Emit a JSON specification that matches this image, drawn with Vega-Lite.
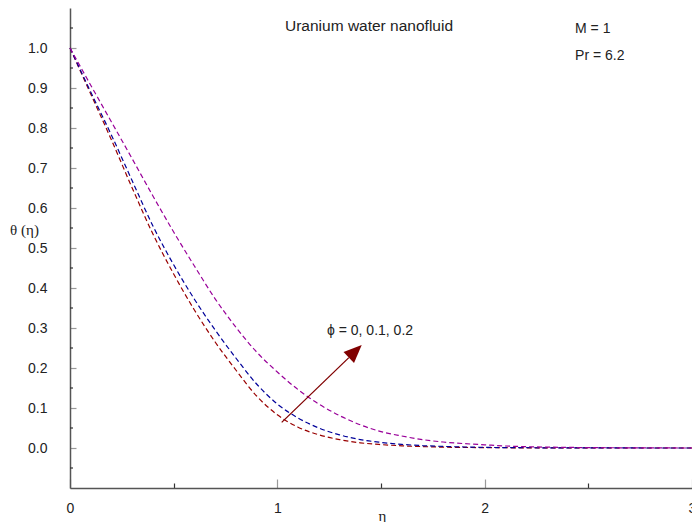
{
  "$schema": "https://vega.github.io/schema/vega-lite/v6.json",
  "autosize": "none",
  "width": 622,
  "height": 480,
  "padding": {"left": 70, "top": 8, "right": 0, "bottom": 34},
  "background": "white",
  "config": {
    "view": {"stroke": null},
    "font": "Liberation Sans",
    "axis": {
      "grid": false,
      "labelFont": "Liberation Sans",
      "labelFontSize": 14,
      "labelColor": "#222222",
      "domainColor": "#555555",
      "domainWidth": 1.5,
      "tickWidth": 1.2,
      "titleFont": "Liberation Serif",
      "titleFontSize": 15,
      "titleFontWeight": "normal",
      "titleColor": "#222222"
    }
  },
  "datasets": {
    "curves": [
      {"eta": 0.0, "theta": 1.0, "phi": "0"},
      {"eta": 0.1, "theta": 0.885, "phi": "0"},
      {"eta": 0.2, "theta": 0.77, "phi": "0"},
      {"eta": 0.3, "theta": 0.65, "phi": "0"},
      {"eta": 0.4, "theta": 0.535, "phi": "0"},
      {"eta": 0.5, "theta": 0.435, "phi": "0"},
      {"eta": 0.6, "theta": 0.345, "phi": "0"},
      {"eta": 0.7, "theta": 0.265, "phi": "0"},
      {"eta": 0.8, "theta": 0.195, "phi": "0"},
      {"eta": 0.9, "theta": 0.13, "phi": "0"},
      {"eta": 1.0, "theta": 0.083, "phi": "0"},
      {"eta": 1.1, "theta": 0.052, "phi": "0"},
      {"eta": 1.2, "theta": 0.033, "phi": "0"},
      {"eta": 1.3, "theta": 0.021, "phi": "0"},
      {"eta": 1.4, "theta": 0.013, "phi": "0"},
      {"eta": 1.5, "theta": 0.0085, "phi": "0"},
      {"eta": 1.6, "theta": 0.0055, "phi": "0"},
      {"eta": 1.7, "theta": 0.0035, "phi": "0"},
      {"eta": 1.8, "theta": 0.0022, "phi": "0"},
      {"eta": 1.9, "theta": 0.0014, "phi": "0"},
      {"eta": 2.0, "theta": 0.0009, "phi": "0"},
      {"eta": 2.2, "theta": 0.0004, "phi": "0"},
      {"eta": 2.5, "theta": 0.0001, "phi": "0"},
      {"eta": 3.0, "theta": 0.0, "phi": "0"},
      {"eta": 0.0, "theta": 1.0, "phi": "0.1"},
      {"eta": 0.1, "theta": 0.89, "phi": "0.1"},
      {"eta": 0.2, "theta": 0.782, "phi": "0.1"},
      {"eta": 0.3, "theta": 0.668, "phi": "0.1"},
      {"eta": 0.4, "theta": 0.555, "phi": "0.1"},
      {"eta": 0.5, "theta": 0.458, "phi": "0.1"},
      {"eta": 0.6, "theta": 0.372, "phi": "0.1"},
      {"eta": 0.7, "theta": 0.295, "phi": "0.1"},
      {"eta": 0.8, "theta": 0.225, "phi": "0.1"},
      {"eta": 0.9, "theta": 0.16, "phi": "0.1"},
      {"eta": 1.0, "theta": 0.11, "phi": "0.1"},
      {"eta": 1.1, "theta": 0.075, "phi": "0.1"},
      {"eta": 1.2, "theta": 0.05, "phi": "0.1"},
      {"eta": 1.3, "theta": 0.033, "phi": "0.1"},
      {"eta": 1.4, "theta": 0.021, "phi": "0.1"},
      {"eta": 1.5, "theta": 0.014, "phi": "0.1"},
      {"eta": 1.6, "theta": 0.009, "phi": "0.1"},
      {"eta": 1.7, "theta": 0.006, "phi": "0.1"},
      {"eta": 1.8, "theta": 0.004, "phi": "0.1"},
      {"eta": 1.9, "theta": 0.0025, "phi": "0.1"},
      {"eta": 2.0, "theta": 0.0016, "phi": "0.1"},
      {"eta": 2.2, "theta": 0.0007, "phi": "0.1"},
      {"eta": 2.5, "theta": 0.0002, "phi": "0.1"},
      {"eta": 3.0, "theta": 0.0, "phi": "0.1"},
      {"eta": 0.0, "theta": 1.0, "phi": "0.2"},
      {"eta": 0.1, "theta": 0.907, "phi": "0.2"},
      {"eta": 0.2, "theta": 0.815, "phi": "0.2"},
      {"eta": 0.3, "theta": 0.723, "phi": "0.2"},
      {"eta": 0.4, "theta": 0.63, "phi": "0.2"},
      {"eta": 0.5, "theta": 0.54, "phi": "0.2"},
      {"eta": 0.6, "theta": 0.455, "phi": "0.2"},
      {"eta": 0.7, "theta": 0.373, "phi": "0.2"},
      {"eta": 0.8, "theta": 0.302, "phi": "0.2"},
      {"eta": 0.9, "theta": 0.24, "phi": "0.2"},
      {"eta": 1.0, "theta": 0.19, "phi": "0.2"},
      {"eta": 1.1, "theta": 0.146, "phi": "0.2"},
      {"eta": 1.2, "theta": 0.11, "phi": "0.2"},
      {"eta": 1.3, "theta": 0.081, "phi": "0.2"},
      {"eta": 1.4, "theta": 0.058, "phi": "0.2"},
      {"eta": 1.5, "theta": 0.041, "phi": "0.2"},
      {"eta": 1.6, "theta": 0.03, "phi": "0.2"},
      {"eta": 1.7, "theta": 0.021, "phi": "0.2"},
      {"eta": 1.8, "theta": 0.015, "phi": "0.2"},
      {"eta": 1.9, "theta": 0.011, "phi": "0.2"},
      {"eta": 2.0, "theta": 0.008, "phi": "0.2"},
      {"eta": 2.1, "theta": 0.005, "phi": "0.2"},
      {"eta": 2.2, "theta": 0.0033, "phi": "0.2"},
      {"eta": 2.3, "theta": 0.0022, "phi": "0.2"},
      {"eta": 2.5, "theta": 0.001, "phi": "0.2"},
      {"eta": 2.7, "theta": 0.0004, "phi": "0.2"},
      {"eta": 3.0, "theta": 0.0, "phi": "0.2"}
    ],
    "minorTicks": [
      {"eta": 0, "theta": -0.05}, {"eta": 0, "theta": 0.05}, {"eta": 0, "theta": 0.15},
      {"eta": 0, "theta": 0.25}, {"eta": 0, "theta": 0.35}, {"eta": 0, "theta": 0.45},
      {"eta": 0, "theta": 0.55}, {"eta": 0, "theta": 0.65}, {"eta": 0, "theta": 0.75},
      {"eta": 0, "theta": 0.85}, {"eta": 0, "theta": 0.95}, {"eta": 0, "theta": 1.05}
    ],
    "arrow": [
      {"eta": 1.021, "theta": 0.064, "eta2": 1.345, "theta2": 0.226, "tipEta": 1.407, "tipTheta": 0.2575}
    ],
    "heading": [
      {"eta": 1.037, "theta": 1.0425, "label": "Uranium water nanofluid"}
    ],
    "notes": [
      {"eta": 2.436, "theta": 1.0375, "label": "M = 1"},
      {"eta": 2.436, "theta": 0.97, "label": "Pr = 6.2"},
      {"eta": 1.2395, "theta": 0.2825, "label": "ϕ = 0, 0.1, 0.2"}
    ]
  },
  "layer": [
    {
      "data": {"name": "curves"},
      "mark": {"type": "line", "interpolate": "monotone", "strokeWidth": 1.2, "strokeDash": [5, 3]},
      "encoding": {
        "x": {
          "field": "eta", "type": "quantitative",
          "scale": {"domain": [0, 3], "nice": false, "zero": false},
          "axis": {
            "title": "η",
            "titleX": 312, "titleY": 27, "titleAlign": "center", "titleBaseline": "middle",
            "values": [0, 0.5, 1, 1.5, 2, 2.5, 3],
            "labelExpr": "round(datum.value * 10) % 10 == 0 ? format(datum.value, 'd') : ''",
            "labelPadding": 22,
            "labelFlush": false,
            "labelOverlap": false,
            "tickSize": {"condition": {"test": "round(datum.value * 10) % 10 == 0", "value": -9}, "value": -5},
            "tickColor": {"condition": {"test": "round(datum.value * 10) % 10 == 0", "value": "#9a9a9a"}, "value": "#333333"}
          }
        },
        "y": {
          "field": "theta", "type": "quantitative",
          "scale": {"domain": [-0.1, 1.1], "nice": false, "zero": false},
          "axis": {
            "title": "θ (η)",
            "titleAngle": 0, "titleX": -46, "titleY": 221, "titleAlign": "center", "titleBaseline": "middle",
            "values": [0, 0.1, 0.2, 0.3, 0.4, 0.5, 0.6, 0.7, 0.8, 0.9, 1.0],
            "format": ".1f",
            "labelPadding": 29,
            "labelOverlap": false,
            "labelFlush": false,
            "tickSize": -6,
            "tickColor": "#9a9a9a"
          }
        },
        "color": {
          "field": "phi", "type": "nominal",
          "scale": {"domain": ["0", "0.1", "0.2"], "range": ["#990000", "#000099", "#990099"]},
          "legend": null
        }
      }
    },
    {
      "data": {"name": "minorTicks"},
      "mark": {"type": "tick", "orient": "horizontal", "size": 3, "thickness": 1.2, "color": "#333333", "xOffset": 1.5, "opacity": 1},
      "encoding": {
        "x": {"field": "eta", "type": "quantitative"},
        "y": {"field": "theta", "type": "quantitative"}
      }
    },
    {
      "data": {"name": "arrow"},
      "mark": {"type": "rule", "color": "#800000", "strokeWidth": 1.3},
      "encoding": {
        "x": {"field": "eta", "type": "quantitative"},
        "y": {"field": "theta", "type": "quantitative"},
        "x2": {"field": "eta2"},
        "y2": {"field": "theta2"}
      }
    },
    {
      "data": {"name": "arrow"},
      "mark": {"type": "point", "shape": "M0,0L0.42,1L-0.42,1Z", "filled": true, "color": "#800000", "opacity": 1, "size": 1296, "angle": 46},
      "encoding": {
        "x": {"field": "tipEta", "type": "quantitative"},
        "y": {"field": "tipTheta", "type": "quantitative"}
      }
    },
    {
      "data": {"name": "heading"},
      "mark": {"type": "text", "align": "left", "baseline": "alphabetic", "font": "Liberation Sans", "fontSize": 15.5, "color": "#222222"},
      "encoding": {
        "x": {"field": "eta", "type": "quantitative"},
        "y": {"field": "theta", "type": "quantitative"},
        "text": {"field": "label"}
      }
    },
    {
      "data": {"name": "notes"},
      "mark": {"type": "text", "align": "left", "baseline": "alphabetic", "font": "Liberation Sans", "fontSize": 14, "color": "#222222"},
      "encoding": {
        "x": {"field": "eta", "type": "quantitative"},
        "y": {"field": "theta", "type": "quantitative"},
        "text": {"field": "label"}
      }
    }
  ]
}
